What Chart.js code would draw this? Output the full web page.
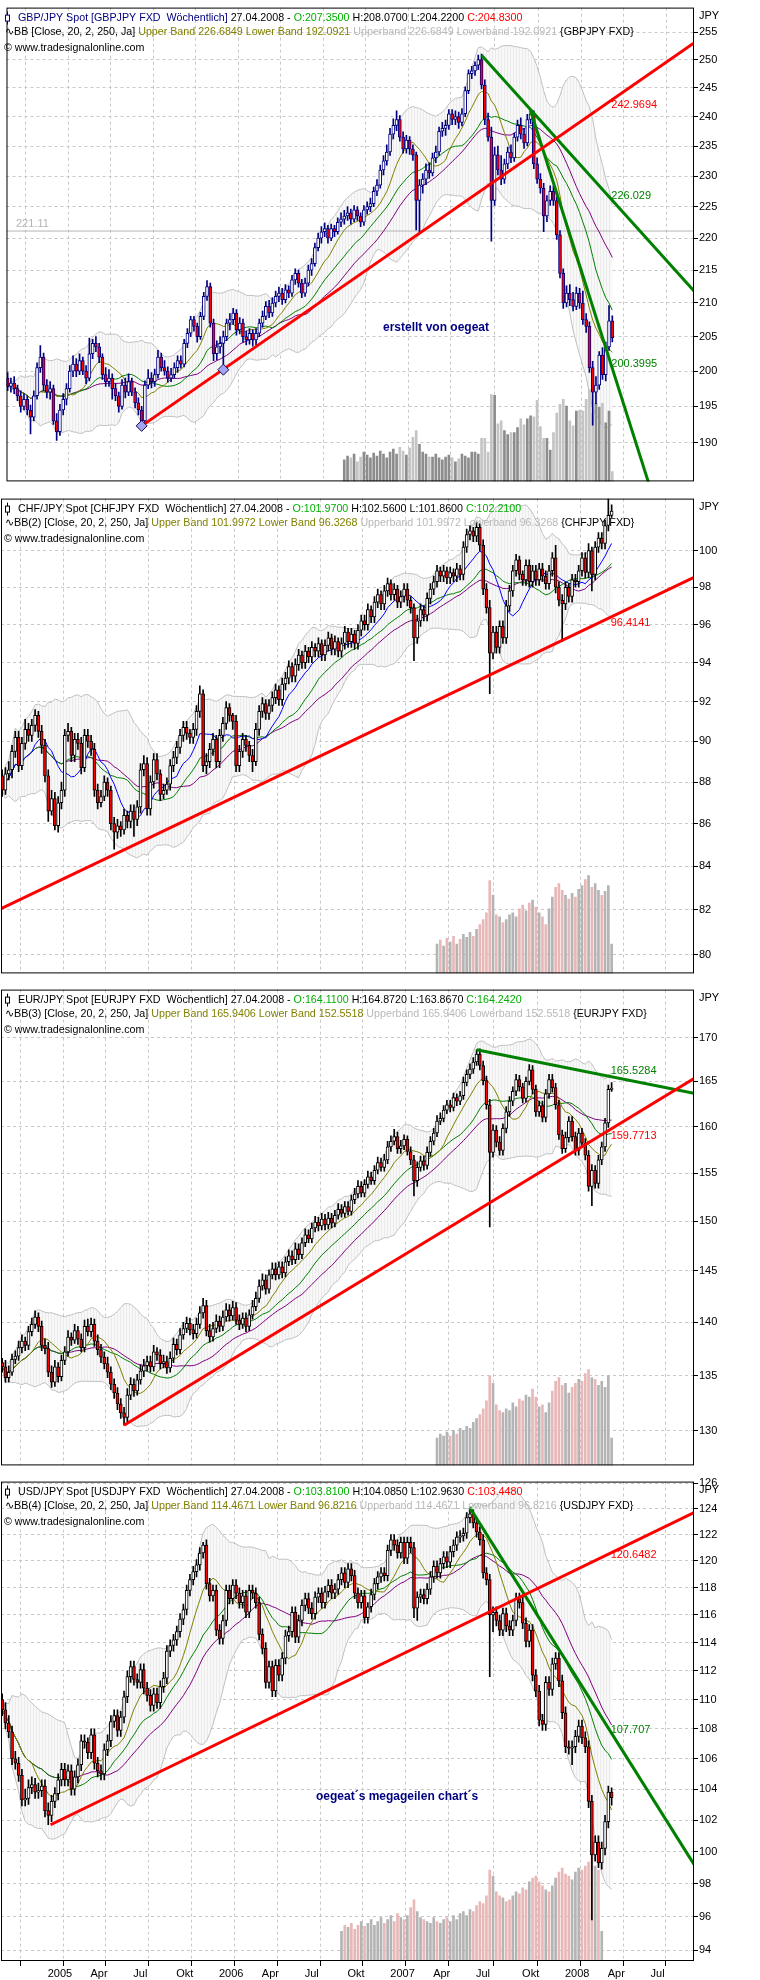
<!DOCTYPE html>
<html>
<head>
<meta charset="utf-8">
<script src="https://cdn.jsdelivr.net/npm/chart.js@4.4.1/dist/chart.umd.min.js"></script>
<style>
  html, body { margin: 0; padding: 0; background: #fff; }
  body { width: 760px; height: 1980px; position: relative; overflow: hidden; }
  canvas { position: absolute; left: 0; }
</style>
</head>
<body>
<canvas id="gbp"></canvas>
<canvas id="chf"></canvas>
<canvas id="eur"></canvas>
<canvas id="usd"></canvas>
<script>
// week 0 = bar of 02.01.2005, one bar per week, last bar = 27.04.2008 (week 173)
const firstWeek = -12;
const lastWeek = 173;

const xTickWeeks = [0, 13, 26, 39, 52, 65, 78, 91, 104, 117, 130, 144, 157, 170, 183];
const xTickLabels = ["2005", "Apr", "Jul", "Okt", "2006", "Apr", "Jul", "Okt", "2007", "Apr", "Jul", "Okt", "2008", "Apr", "Jul"];

// ---------- GBP/JPY ----------
const gbpOpen = [
  199.0, 197.8, 198.3, 197.5, 196.5, 195.0, 196.0, 194.5, 193.5, 196.5,
  200.5, 202.0, 198.0, 197.0, 197.5, 193.0, 191.5, 194.5, 196.0, 197.5,
  200.0, 201.0, 200.0, 201.5, 200.0, 199.0, 202.5, 204.0, 203.5, 202.0,
  199.5, 198.5, 199.0, 197.5, 196.5, 195.0, 198.0, 197.0, 198.5, 197.0,
  195.5, 194.5, 193.0, 198.0, 199.0, 198.5, 199.5, 202.0, 200.5, 200.0,
  199.0, 199.5, 200.5, 201.5, 201.0, 204.0, 205.5, 207.5, 206.5, 205.0,
  208.0, 211.0, 212.5, 207.0, 202.5, 203.5, 204.0, 205.0, 207.0, 207.5,
  208.5, 206.0, 207.0, 205.0, 204.5, 205.5, 204.5, 205.5, 207.0, 208.0,
  209.5, 208.5, 210.0, 211.0, 211.5, 210.5, 212.0, 211.5, 213.5, 214.5,
  213.0, 211.5, 213.0, 215.0, 216.0, 218.5, 220.0, 221.0, 221.5, 220.0,
  221.5, 221.0, 222.5, 223.0, 223.5, 224.0, 223.0, 224.5, 223.5, 222.5,
  224.5, 225.0, 225.5, 227.5, 228.5, 231.0, 232.5, 234.0, 237.0, 238.5,
  239.5, 236.5, 234.5, 236.0, 234.5, 233.5, 226.0, 228.5, 229.5, 231.0,
  230.5, 233.0, 234.0, 237.5, 238.0, 238.5, 240.5, 239.5, 240.0, 239.0,
  240.5, 244.5, 247.5, 248.0, 249.0, 250.0, 245.5, 239.5, 236.5, 226.0,
  233.5, 231.0, 229.5, 232.0, 234.0, 233.0, 236.5, 238.5, 237.0, 235.5,
  239.5, 240.5, 232.0, 229.5, 228.0, 223.5, 226.0, 227.5, 226.0, 220.5,
  214.5, 210.0, 211.5, 210.5, 209.5, 211.5, 210.0, 207.5, 206.5, 200.5,
  197.0, 198.0, 202.3, 199.5, 203.5, 207.35
];
const gbpHigh = [
  199.8, 199.0, 199.2, 198.0, 197.2, 196.8, 196.5, 195.2, 197.2, 201.2,
  203.7, 202.6, 198.8, 198.5, 198.0, 194.0, 195.3, 196.8, 198.2, 200.8,
  202.2, 201.8, 202.5, 202.0, 200.8, 204.8, 204.6, 205.0, 204.0, 202.5,
  200.5, 200.2, 199.6, 198.2, 197.0, 198.8, 199.0, 199.6, 199.0, 197.6,
  196.2, 195.0, 198.6, 200.2, 199.8, 200.3, 203.0, 202.6, 201.5, 200.6,
  200.4, 201.2, 202.2, 202.2, 204.6, 206.2, 208.0, 208.0, 207.0, 208.6,
  211.6, 213.4, 213.0, 207.6, 204.4, 205.0, 205.8, 207.6, 208.4, 209.2,
  209.0, 207.8, 207.6, 205.8, 206.2, 206.0, 206.2, 207.6, 208.8, 210.2,
  210.4, 210.8, 211.8, 212.4, 212.2, 212.8, 212.6, 214.2, 215.2, 215.0,
  213.6, 213.8, 215.8, 216.8, 219.2, 220.8, 221.8, 222.4, 222.0, 222.2,
  222.0, 223.2, 224.0, 224.4, 225.0, 224.6, 225.2, 225.0, 224.0, 225.2,
  225.8, 226.4, 228.2, 229.4, 231.8, 233.4, 235.2, 238.0, 239.6, 241.0,
  240.2, 237.4, 236.8, 236.6, 235.2, 234.0, 229.4, 230.4, 232.0, 232.2,
  233.8, 235.0, 238.2, 239.0, 239.4, 241.2, 241.2, 241.0, 240.8, 241.4,
  245.2, 248.2, 248.8, 249.6, 250.8, 251.0, 246.4, 240.6, 238.2, 234.8,
  235.0, 233.4, 232.8, 234.8, 235.2, 237.2, 239.4, 239.8, 238.0, 240.4,
  241.2, 241.0, 233.0, 230.4, 228.8, 226.8, 228.4, 228.4, 226.6, 221.2,
  215.2, 212.6, 212.8, 211.6, 212.4, 212.2, 211.8, 208.4, 207.2, 201.4,
  199.2, 202.8, 203.4, 204.2, 209.6, 208.07
];
const gbpLow = [
  197.2, 197.0, 196.8, 195.8, 194.2, 194.5, 193.8, 191.2, 193.0, 196.0,
  199.8, 197.2, 196.2, 196.0, 192.5, 190.3, 191.0, 193.8, 195.2, 197.0,
  199.2, 199.2, 199.5, 199.5, 198.2, 198.6, 201.8, 202.8, 201.2, 198.8,
  197.8, 197.8, 196.0, 195.8, 194.2, 194.6, 196.2, 196.5, 196.5, 194.8,
  193.8, 192.3, 192.8, 197.5, 197.6, 197.8, 199.0, 200.0, 199.4, 198.4,
  198.5, 199.0, 199.8, 200.4, 200.6, 203.4, 205.0, 205.8, 204.2, 204.6,
  207.5, 210.4, 206.4, 201.5, 201.6, 202.6, 200.3, 204.4, 206.0, 206.8,
  205.2, 205.4, 204.2, 203.8, 203.9, 203.6, 203.8, 205.0, 206.4, 207.5,
  207.8, 208.0, 209.4, 210.2, 209.8, 210.0, 210.8, 211.0, 212.8, 212.4,
  210.8, 211.0, 212.6, 214.2, 215.6, 218.0, 219.2, 220.2, 219.2, 219.6,
  220.2, 220.6, 221.8, 222.2, 222.8, 222.2, 222.6, 222.8, 221.8, 222.0,
  223.8, 224.2, 225.0, 226.8, 228.0, 230.2, 231.8, 233.4, 236.2, 237.6,
  235.8, 233.8, 233.8, 233.6, 232.6, 221.3, 221.0, 227.2, 228.6, 229.6,
  230.0, 232.2, 233.4, 236.6, 236.8, 237.8, 238.6, 238.6, 238.0, 238.4,
  240.0, 244.0, 246.6, 247.2, 248.2, 244.8, 238.6, 235.8, 219.5, 225.2,
  230.2, 228.6, 228.8, 231.2, 232.2, 232.4, 235.8, 236.2, 234.6, 235.0,
  238.8, 231.2, 228.8, 227.2, 221.0, 222.6, 225.2, 225.2, 219.8, 213.8,
  209.2, 209.4, 209.6, 208.8, 209.0, 209.2, 206.8, 205.6, 199.8, 192.4,
  195.4, 197.4, 198.8, 198.6, 203.0, 204.22
];
const gbpClose = [
  197.8, 198.3, 197.5, 196.5, 195.0, 196.0, 194.5, 193.5, 196.5, 200.5,
  202.0, 198.0, 197.0, 197.5, 193.0, 191.5, 194.5, 196.0, 197.5, 200.0,
  201.0, 200.0, 201.5, 200.0, 199.0, 202.5, 204.0, 203.5, 202.0, 199.5,
  198.5, 199.0, 197.5, 196.5, 195.0, 198.0, 197.0, 198.5, 197.0, 195.5,
  194.5, 193.0, 198.0, 199.0, 198.5, 199.5, 202.0, 200.5, 200.0, 199.0,
  199.5, 200.5, 201.5, 201.0, 204.0, 205.5, 207.5, 206.5, 205.0, 208.0,
  211.0, 212.5, 207.0, 202.5, 203.5, 204.0, 205.0, 207.0, 207.5, 208.5,
  206.0, 207.0, 205.0, 204.5, 205.5, 204.5, 205.5, 207.0, 208.0, 209.5,
  208.5, 210.0, 211.0, 211.5, 210.5, 212.0, 211.5, 213.5, 214.5, 213.0,
  211.5, 213.0, 215.0, 216.0, 218.5, 220.0, 221.0, 221.5, 220.0, 221.5,
  221.0, 222.5, 223.0, 223.5, 224.0, 223.0, 224.5, 223.5, 222.5, 224.5,
  225.0, 225.5, 227.5, 228.5, 231.0, 232.5, 234.0, 237.0, 238.5, 239.5,
  236.5, 234.5, 236.0, 234.5, 233.5, 226.0, 228.5, 229.5, 231.0, 230.5,
  233.0, 234.0, 237.5, 238.0, 238.5, 240.5, 239.5, 240.0, 239.0, 240.5,
  244.5, 247.5, 248.0, 249.0, 250.0, 245.5, 239.5, 236.5, 226.0, 233.5,
  231.0, 229.5, 232.0, 234.0, 233.0, 236.5, 238.5, 237.0, 235.5, 239.5,
  240.5, 232.0, 229.5, 228.0, 223.5, 226.0, 227.5, 226.0, 220.5, 214.5,
  210.0, 211.5, 210.5, 209.5, 211.5, 210.0, 207.5, 206.5, 200.5, 197.0,
  198.0, 202.3, 199.5, 203.5, 207.35, 204.83
];
const gbpVolumeStart = 91;
const gbpVolume = [
  22, 26, 24, 28, 20, 25, 30, 27, 24, 29,
  26, 31, 28, 24, 30, 33, 28, 35, 31, 27,
  34, 45, 52, 38, 30, 28, 25, 25, 28, 24,
  22, 25, 27, 24, 20, 23, 28, 26, 24, 30,
  30, 28, 44, 44, 30, 89, 88, 59, 62, 52,
  48, 50, 50, 55, 64, 58, 64, 67, 66, 83,
  56, 44, 44, 32, 50, 70, 79, 84, 77, 62,
  57, 72, 73, 72, 84, 94, 70, 80, 76, 80,
  60, 72, 10
];
const gbpTicks = [190, 195, 200, 205, 210, 215, 220, 225, 230, 235, 240, 245, 250, 255];
const gbpRedLine = [[29, 192.3], [198, 253.0]];
const gbpGreenLine = [[133, 250.8], [198, 211.8]];
const gbpSteepLine = [[148, 241.0], [185, 183.4]];
const gbpMarkers = [[29, 192.3], [54, 200.2]];
const gbpLevel = 221.11;

// ---------- CHF/JPY ----------
const chfOpen = [
  88.3, 87.6, 88.4, 88.6, 89.5, 90.2, 88.8, 89.9, 90.6, 90.3,
  90.8, 91.3, 90.5, 89.8, 88.3, 86.6, 87.2, 85.9, 87.0, 87.6,
  90.3, 90.5, 89.3, 90.1, 89.9, 88.7, 90.3, 90.0, 89.6, 87.6,
  87.0, 87.3, 88.0, 87.6, 86.0, 85.6, 85.9, 85.7, 86.4, 86.1,
  86.6, 86.2, 86.8, 88.6, 88.9, 86.7, 88.0, 89.1, 88.4, 87.4,
  87.6, 87.9, 88.8, 89.2, 89.7, 90.3, 90.7, 90.4, 90.2, 90.6,
  91.5, 92.4, 88.8, 89.0, 89.6, 90.1, 89.0, 90.3, 90.9, 91.7,
  91.3, 91.0, 88.8, 89.5, 90.1, 89.8, 89.3, 89.0, 90.6, 91.5,
  91.9, 91.4, 91.8, 92.2, 92.6, 92.1, 92.9, 93.2, 93.8, 93.3,
  93.9, 94.4, 94.0, 94.6, 94.3, 94.8, 94.6, 95.0, 94.4, 94.9,
  95.3, 94.7, 95.1, 94.6, 95.0, 95.6, 95.1, 95.5, 95.0, 95.7,
  96.2, 96.0, 96.8, 96.4, 97.2, 97.6, 97.1, 97.8, 98.2, 97.6,
  97.9, 97.2, 97.5, 97.9, 97.3, 96.9, 95.3, 96.2, 96.8, 96.5,
  97.4, 97.9, 98.3, 98.9, 98.6, 98.9, 98.5, 98.8, 98.6, 99.0,
  98.7, 100.2, 100.9, 101.1, 100.8, 101.3, 100.3, 97.9, 96.9, 94.5,
  95.6, 94.8, 95.9, 95.3, 97.0, 97.8, 98.9, 99.5, 98.7, 98.4,
  99.2, 98.3, 98.9, 98.4, 99.0, 98.6, 98.2, 98.9, 99.6, 98.0,
  97.3, 97.1, 98.0, 97.5, 98.4, 98.3, 98.9, 99.6, 98.8, 100.0,
  98.7, 100.2, 100.7, 100.4, 101.4, 101.97
];
const chfHigh = [
  88.6, 88.7, 89.0, 89.8, 90.5, 90.5, 90.2, 91.1, 90.9, 91.1,
  91.6, 91.5, 90.8, 90.1, 88.6, 87.6, 87.5, 87.3, 88.0, 90.6,
  90.9, 90.7, 90.4, 90.4, 90.2, 90.6, 90.6, 90.3, 89.9, 87.9,
  87.6, 88.3, 88.2, 87.8, 86.3, 86.2, 86.1, 86.7, 86.6, 86.9,
  86.9, 87.1, 88.9, 89.3, 89.2, 88.3, 89.4, 89.4, 88.6, 87.9,
  88.2, 89.1, 89.5, 90.0, 90.6, 91.0, 91.0, 90.6, 90.9, 91.8,
  92.8, 92.6, 89.4, 89.9, 90.4, 90.3, 90.6, 91.2, 92.0, 91.9,
  91.4, 91.3, 89.8, 90.4, 90.3, 90.0, 89.6, 90.9, 91.8, 92.2,
  92.1, 92.1, 92.5, 92.9, 92.8, 93.2, 93.5, 94.1, 94.0, 94.2,
  94.7, 94.6, 94.9, 94.8, 95.1, 95.0, 95.3, 95.2, 95.2, 95.6,
  95.5, 95.4, 95.3, 95.3, 95.9, 95.8, 95.8, 95.7, 96.0, 96.5,
  96.5, 97.1, 97.0, 97.5, 97.9, 97.8, 98.1, 98.5, 98.4, 98.2,
  98.1, 97.8, 98.2, 98.2, 97.5, 97.1, 96.5, 97.1, 97.0, 97.7,
  98.2, 98.6, 99.2, 99.1, 99.2, 99.1, 99.1, 99.0, 99.3, 99.2,
  100.5, 101.2, 101.4, 101.3, 101.6, 101.5, 100.6, 98.2, 97.3, 95.9,
  95.9, 96.2, 96.2, 97.3, 98.1, 99.2, 99.8, 99.7, 98.9, 99.5,
  99.5, 99.2, 99.2, 99.3, 99.3, 98.9, 99.2, 99.9, 100.3, 98.3,
  97.6, 98.3, 98.2, 98.7, 98.7, 99.2, 99.9, 99.9, 100.4, 100.2,
  100.5, 101.0, 101.0, 101.7, 102.9, 102.56
];
const chfLow = [
  87.3, 87.4, 88.1, 88.2, 89.2, 88.5, 88.6, 89.6, 90.0, 90.0,
  90.5, 90.2, 89.4, 88.0, 86.1, 86.4, 85.7, 85.6, 86.7, 87.3,
  90.0, 89.0, 89.0, 89.6, 88.4, 88.5, 89.7, 89.3, 87.3, 86.7,
  86.8, 87.1, 87.3, 85.7, 84.8, 85.3, 85.4, 85.5, 85.8, 85.8,
  85.4, 85.9, 86.5, 88.3, 86.4, 86.4, 87.7, 88.1, 87.1, 87.2,
  87.4, 87.6, 88.5, 88.9, 89.4, 90.0, 90.1, 89.9, 89.9, 90.3,
  91.2, 88.5, 88.4, 88.7, 89.3, 88.7, 88.7, 90.0, 90.6, 91.0,
  90.6, 88.5, 88.5, 89.2, 89.5, 89.0, 88.5, 88.8, 90.3, 91.2,
  91.1, 91.1, 91.5, 91.9, 91.8, 91.8, 92.6, 92.9, 93.0, 93.0,
  93.6, 93.7, 93.7, 94.0, 94.0, 94.3, 94.3, 94.1, 94.1, 94.6,
  94.4, 94.4, 94.3, 94.3, 94.7, 94.8, 94.8, 94.7, 94.7, 95.4,
  95.7, 95.7, 96.1, 96.1, 96.9, 96.8, 96.8, 97.5, 97.3, 97.3,
  96.9, 96.9, 97.2, 97.0, 96.6, 94.1, 95.0, 95.9, 96.2, 96.2,
  97.1, 97.6, 98.0, 98.3, 98.3, 98.2, 98.2, 98.3, 98.3, 98.4,
  98.4, 99.9, 100.6, 100.5, 100.5, 100.0, 97.6, 96.6, 92.4, 94.2,
  94.5, 94.5, 95.0, 95.0, 96.7, 97.5, 98.6, 98.4, 98.1, 98.1,
  98.0, 98.0, 98.1, 98.1, 98.3, 97.9, 97.9, 98.6, 97.7, 97.0,
  95.1, 96.8, 97.2, 97.2, 98.0, 98.0, 98.6, 98.5, 98.5, 97.8,
  98.4, 99.9, 100.1, 100.1, 101.1, 101.86
];
const chfClose = [
  87.6, 88.4, 88.6, 89.5, 90.2, 88.8, 89.9, 90.6, 90.3, 90.8,
  91.3, 90.5, 89.8, 88.3, 86.6, 87.2, 85.9, 87.0, 87.6, 90.3,
  90.5, 89.3, 90.1, 89.9, 88.7, 90.3, 90.0, 89.6, 87.6, 87.0,
  87.3, 88.0, 87.6, 86.0, 85.6, 85.9, 85.7, 86.4, 86.1, 86.6,
  86.2, 86.8, 88.6, 88.9, 86.7, 88.0, 89.1, 88.4, 87.4, 87.6,
  87.9, 88.8, 89.2, 89.7, 90.3, 90.7, 90.4, 90.2, 90.6, 91.5,
  92.4, 88.8, 89.0, 89.6, 90.1, 89.0, 90.3, 90.9, 91.7, 91.3,
  91.0, 88.8, 89.5, 90.1, 89.8, 89.3, 89.0, 90.6, 91.5, 91.9,
  91.4, 91.8, 92.2, 92.6, 92.1, 92.9, 93.2, 93.8, 93.3, 93.9,
  94.4, 94.0, 94.6, 94.3, 94.8, 94.6, 95.0, 94.4, 94.9, 95.3,
  94.7, 95.1, 94.6, 95.0, 95.6, 95.1, 95.5, 95.0, 95.7, 96.2,
  96.0, 96.8, 96.4, 97.2, 97.6, 97.1, 97.8, 98.2, 97.6, 97.9,
  97.2, 97.5, 97.9, 97.3, 96.9, 95.3, 96.2, 96.8, 96.5, 97.4,
  97.9, 98.3, 98.9, 98.6, 98.9, 98.5, 98.8, 98.6, 99.0, 98.7,
  100.2, 100.9, 101.1, 100.8, 101.3, 100.3, 97.9, 96.9, 94.5, 95.6,
  94.8, 95.9, 95.3, 97.0, 97.8, 98.9, 99.5, 98.7, 98.4, 99.2,
  98.3, 98.9, 98.4, 99.0, 98.6, 98.2, 98.9, 99.6, 98.0, 97.3,
  97.1, 98.0, 97.5, 98.4, 98.3, 98.9, 99.6, 98.8, 100.0, 98.7,
  100.2, 100.7, 100.4, 101.4, 101.97, 102.21
];
const chfVolumeStart = 120;
const chfVolume = [
  30, 34, 28, 36, 32, 38, 30, 35, 40, 37,
  42, 38, 45, 50, 55, 62, 95, 80, 60, 58,
  52, 55, 60, 62, 58, 66, 70, 64, 72, 75,
  68, 62, 58, 50, 66, 78, 88, 92, 85, 80,
  76, 82, 78, 86, 90, 96, 100, 88, 92, 85,
  80, 84, 90, 30
];
const chfTicks = [80, 82, 84, 86, 88, 90, 92, 94, 96, 98, 100];
const chfRedLine = [[-12.35, 82.05], [198, 98.54]];

// ---------- EUR/JPY ----------
const eurOpen = [
  136.2, 135.8, 134.8, 135.3, 136.5, 136.8, 137.6, 138.2, 137.8, 139.1,
  139.8, 140.5, 139.6, 137.8, 137.5, 135.3, 134.4, 135.8, 134.9, 136.4,
  137.2, 138.6, 138.3, 139.2, 138.4, 137.6, 139.6, 139.1, 139.8, 138.2,
  137.4, 136.7, 136.1, 135.3, 134.2, 133.4, 132.4, 131.6, 131.2, 133.2,
  134.2, 133.6, 134.6, 135.4, 135.9, 136.3, 135.8, 137.2, 136.9, 136.1,
  136.3, 135.7, 136.6, 137.9, 137.4, 138.8, 139.4, 139.9, 139.3, 138.9,
  139.8, 140.9, 141.6, 139.2, 138.6, 139.4, 140.1, 139.6, 140.5, 141.2,
  140.6, 141.4, 140.2, 139.8, 140.4, 139.6, 140.7, 141.5, 142.3, 143.5,
  144.1, 143.2, 144.6, 145.2, 144.6, 145.4, 144.8, 145.9, 146.5, 146.1,
  147.2, 146.6, 147.8, 148.6, 148.2, 149.3, 149.9, 149.5, 150.2, 149.6,
  150.3, 149.8, 150.6, 151.2, 150.8, 151.5, 151.0, 152.2, 152.8, 153.6,
  152.9, 153.8, 154.6, 154.2, 155.3, 156.1, 155.6, 156.4, 157.8, 158.4,
  158.9, 157.6, 157.9, 158.6, 157.3, 156.4, 154.2, 155.6, 156.3, 155.8,
  157.2, 158.4, 159.3, 160.6, 160.9, 161.8, 162.4, 162.1, 163.2, 162.8,
  163.4, 164.9, 165.8, 166.4, 167.2, 168.1, 166.8, 165.1, 162.4, 157.2,
  159.6, 158.3, 157.4, 159.8, 161.6, 162.8, 163.9, 165.2, 164.4, 163.1,
  165.0, 166.3, 164.1, 161.6, 162.3, 161.0, 163.6, 165.2, 164.3, 162.4,
  159.1, 157.6, 158.8, 160.6, 158.9, 157.4, 159.3, 158.2, 156.9, 153.6,
  155.3, 153.9, 156.4, 157.8, 160.4, 164.11
];
const eurHigh = [
  136.6, 136.4, 135.9, 137.0, 137.3, 138.2, 138.8, 138.6, 139.6, 140.4,
  141.1, 140.9, 140.1, 138.4, 138.1, 135.9, 136.4, 136.2, 136.9, 137.7,
  139.2, 139.0, 139.8, 139.6, 138.9, 140.2, 140.3, 140.4, 140.3, 138.8,
  137.9, 137.2, 136.7, 135.8, 134.7, 133.9, 132.9, 132.1, 133.8, 134.8,
  134.7, 135.1, 136.0, 136.5, 136.8, 136.8, 137.8, 137.6, 137.4, 136.9,
  136.8, 137.2, 138.5, 138.4, 139.4, 140.0, 140.5, 140.4, 139.8, 140.4,
  141.5, 142.3, 142.1, 139.8, 140.0, 140.7, 140.6, 141.1, 141.8, 141.7,
  142.0, 141.9, 140.7, 140.9, 140.9, 141.2, 142.1, 142.9, 144.1, 144.7,
  144.6, 145.1, 145.8, 145.8, 145.9, 145.9, 146.4, 147.1, 147.0, 147.8,
  147.7, 148.3, 149.2, 149.1, 149.8, 150.5, 150.4, 150.8, 150.7, 150.9,
  150.8, 151.1, 151.8, 151.7, 152.0, 152.0, 152.7, 153.4, 154.2, 154.1,
  154.3, 155.2, 155.1, 155.8, 156.7, 156.6, 157.0, 158.4, 159.0, 159.7,
  159.4, 158.5, 159.1, 159.0, 157.8, 156.9, 156.2, 156.8, 156.8, 157.8,
  158.9, 159.8, 161.2, 161.5, 162.3, 162.9, 162.9, 163.7, 163.6, 163.9,
  165.5, 166.3, 167.0, 167.7, 168.6, 168.7, 167.3, 165.6, 163.0, 160.2,
  160.1, 158.9, 160.3, 162.2, 163.3, 164.4, 165.8, 165.7, 164.8, 165.5,
  166.9, 166.8, 164.6, 162.8, 162.8, 164.1, 165.8, 165.8, 164.8, 162.9,
  159.6, 159.4, 161.1, 161.1, 159.4, 159.8, 159.8, 158.7, 157.4, 155.9,
  155.8, 156.9, 158.3, 160.9, 164.6, 164.872
];
const eurLow = [
  135.3, 134.4, 134.4, 135.0, 136.1, 136.4, 137.1, 137.3, 137.4, 138.7,
  139.4, 139.1, 137.3, 137.0, 134.9, 133.9, 134.0, 134.4, 134.5, 136.0,
  136.8, 137.8, 138.0, 137.9, 137.2, 137.2, 138.7, 138.6, 137.7, 136.9,
  136.2, 135.6, 134.8, 133.7, 132.9, 131.9, 131.1, 130.5, 130.8, 132.8,
  133.1, 133.2, 134.2, 134.9, 135.4, 135.3, 135.4, 136.4, 135.6, 135.7,
  135.2, 135.3, 136.2, 136.9, 137.0, 138.4, 139.0, 138.8, 138.4, 138.5,
  139.4, 140.4, 138.7, 138.1, 138.2, 139.0, 139.1, 139.2, 140.1, 140.1,
  140.2, 139.8, 139.3, 139.4, 139.1, 139.2, 140.3, 141.1, 141.9, 143.1,
  142.7, 142.8, 144.2, 144.1, 144.2, 144.3, 144.4, 145.5, 145.6, 145.7,
  146.1, 146.2, 147.4, 147.8, 147.8, 148.9, 149.0, 149.1, 149.1, 149.2,
  149.3, 149.4, 150.2, 150.4, 150.4, 150.6, 150.6, 151.8, 152.4, 152.5,
  152.5, 153.4, 153.8, 153.8, 154.9, 155.2, 155.2, 156.0, 157.3, 158.0,
  157.1, 157.1, 157.5, 156.9, 155.9, 152.6, 153.6, 155.2, 155.3, 155.4,
  156.8, 158.0, 158.9, 160.2, 160.5, 161.4, 161.6, 161.7, 162.3, 162.4,
  163.0, 164.5, 165.3, 165.9, 166.8, 166.3, 164.6, 161.9, 149.4, 156.7,
  157.8, 156.9, 156.9, 159.3, 161.1, 162.3, 163.4, 163.9, 162.6, 162.7,
  164.6, 163.6, 161.1, 161.1, 160.5, 160.5, 163.1, 163.8, 161.9, 158.6,
  157.1, 157.2, 158.3, 158.4, 156.9, 156.9, 157.7, 156.4, 153.1, 151.6,
  153.4, 153.4, 155.9, 157.3, 159.9, 163.867
];
const eurClose = [
  135.8, 134.8, 135.3, 136.5, 136.8, 137.6, 138.2, 137.8, 139.1, 139.8,
  140.5, 139.6, 137.8, 137.5, 135.3, 134.4, 135.8, 134.9, 136.4, 137.2,
  138.6, 138.3, 139.2, 138.4, 137.6, 139.6, 139.1, 139.8, 138.2, 137.4,
  136.7, 136.1, 135.3, 134.2, 133.4, 132.4, 131.6, 131.2, 133.2, 134.2,
  133.6, 134.6, 135.4, 135.9, 136.3, 135.8, 137.2, 136.9, 136.1, 136.3,
  135.7, 136.6, 137.9, 137.4, 138.8, 139.4, 139.9, 139.3, 138.9, 139.8,
  140.9, 141.6, 139.2, 138.6, 139.4, 140.1, 139.6, 140.5, 141.2, 140.6,
  141.4, 140.2, 139.8, 140.4, 139.6, 140.7, 141.5, 142.3, 143.5, 144.1,
  143.2, 144.6, 145.2, 144.6, 145.4, 144.8, 145.9, 146.5, 146.1, 147.2,
  146.6, 147.8, 148.6, 148.2, 149.3, 149.9, 149.5, 150.2, 149.6, 150.3,
  149.8, 150.6, 151.2, 150.8, 151.5, 151.0, 152.2, 152.8, 153.6, 152.9,
  153.8, 154.6, 154.2, 155.3, 156.1, 155.6, 156.4, 157.8, 158.4, 158.9,
  157.6, 157.9, 158.6, 157.3, 156.4, 154.2, 155.6, 156.3, 155.8, 157.2,
  158.4, 159.3, 160.6, 160.9, 161.8, 162.4, 162.1, 163.2, 162.8, 163.4,
  164.9, 165.8, 166.4, 167.2, 168.1, 166.8, 165.1, 162.4, 157.2, 159.6,
  158.3, 157.4, 159.8, 161.6, 162.8, 163.9, 165.2, 164.4, 163.1, 165.0,
  166.3, 164.1, 161.6, 162.3, 161.0, 163.6, 165.2, 164.3, 162.4, 159.1,
  157.6, 158.8, 160.6, 158.9, 157.4, 159.3, 158.2, 156.9, 153.6, 155.3,
  153.9, 156.4, 157.8, 160.4, 164.11, 164.242
];
const eurVolumeStart = 120;
const eurVolume = [
  28, 32, 30, 34, 30, 36, 32, 38, 36, 40,
  38, 44, 48, 52, 58, 66, 92, 84, 62, 56,
  54, 58, 56, 64, 60, 68, 66, 72, 70, 78,
  70, 60, 62, 54, 64, 76, 86, 90, 82, 84,
  74, 80, 84, 88, 86, 94, 98, 90, 88, 82,
  86, 80, 92, 28
];
const eurTicks = [130, 135, 140, 145, 150, 155, 160, 165, 170];
const eurRedLine = [[25, 130.5], [198, 165.33]];
const eurGreenLine = [[132, 168.6], [198, 163.68]];

// ---------- USD/JPY ----------
const usdOpen = [
  110.0, 109.3, 108.4, 107.8, 106.0, 105.7, 104.9, 103.3, 103.4, 104.1,
  104.3, 103.8, 103.9, 104.2, 102.6, 102.3, 103.2, 103.7, 104.6, 105.3,
  104.6, 105.2, 104.0, 104.8, 105.6, 107.2, 107.1, 106.4, 107.6, 105.7,
  105.2, 105.0, 106.6, 107.2, 108.5, 108.9, 107.9, 108.8, 110.2, 111.6,
  112.3, 111.4, 111.2, 112.1, 110.8, 110.3, 109.6, 110.4, 109.8, 110.9,
  111.5, 113.4, 113.8, 114.2, 114.8, 115.7, 116.4, 117.8, 118.6, 119.2,
  119.7, 120.6, 121.2, 118.3, 117.4, 117.8, 114.9, 114.3, 115.6, 117.8,
  117.2, 118.2, 117.6, 116.9, 117.4, 116.2, 117.8, 117.6, 116.9, 114.6,
  113.6, 111.2, 112.3, 110.6, 112.4, 111.7, 112.9, 114.5, 114.8, 116.2,
  114.4, 115.6, 116.7, 117.2, 116.5, 116.1, 117.3, 117.6, 116.9, 117.7,
  118.2, 117.6, 117.9, 118.6, 119.1, 118.4, 119.4, 118.9, 117.6, 116.9,
  117.4, 115.8, 116.6, 117.5, 118.3, 118.8, 119.1, 118.9, 120.8, 121.6,
  121.2, 120.6, 121.4, 120.2, 121.4, 121.0, 116.5, 117.3, 117.5, 117.2,
  117.9, 118.8, 119.6, 119.1, 119.8, 120.3, 119.9, 120.7, 121.2, 121.8,
  121.9, 122.1, 123.3, 123.6, 122.9, 122.2, 121.6, 119.1, 118.6, 116.0,
  116.2, 115.6, 114.9, 116.1, 115.2, 114.9, 115.6, 117.2, 116.9, 115.4,
  114.1, 114.9, 111.7, 110.6, 108.6, 108.3, 111.2, 110.7, 112.5, 112.9,
  111.3, 109.1, 106.8, 106.7, 106.8, 107.5, 108.2, 107.4, 106.8, 103.2,
  99.8, 100.6, 99.3, 100.2, 101.9, 103.81
];
const usdHigh = [
  110.4, 109.8, 108.9, 108.2, 106.5, 106.1, 105.3, 104.0, 104.6, 104.8,
  104.7, 104.4, 104.6, 104.6, 103.1, 103.6, 104.1, 105.0, 105.7, 105.7,
  105.6, 105.6, 105.2, 106.0, 107.6, 107.6, 107.4, 108.0, 108.0, 106.1,
  105.6, 107.0, 107.6, 108.9, 109.3, 109.3, 109.2, 110.6, 112.0, 112.7,
  112.7, 111.8, 112.5, 112.5, 111.2, 110.7, 110.8, 110.8, 111.3, 111.9,
  113.8, 114.2, 114.6, 115.2, 116.1, 116.8, 118.2, 119.0, 119.6, 120.1,
  121.0, 121.4, 121.6, 118.7, 118.2, 118.2, 115.3, 116.0, 118.2, 118.2,
  118.6, 118.6, 118.0, 117.8, 117.8, 118.2, 118.2, 118.0, 117.3, 115.0,
  114.0, 112.7, 112.7, 112.8, 112.8, 113.3, 114.9, 115.2, 116.6, 116.6,
  116.0, 117.1, 117.6, 117.6, 116.9, 117.7, 118.0, 118.0, 118.1, 118.6,
  118.6, 118.3, 119.0, 119.5, 119.5, 119.8, 119.8, 119.3, 118.0, 117.8,
  117.8, 116.9, 117.9, 118.7, 119.2, 119.5, 119.5, 121.2, 122.0, 122.0,
  121.6, 121.8, 121.8, 121.8, 121.8, 121.4, 117.7, 117.9, 117.9, 118.3,
  119.2, 120.0, 120.0, 120.2, 120.7, 120.7, 121.1, 121.6, 122.2, 122.3,
  122.5, 123.7, 124.1, 123.9, 123.3, 122.6, 122.0, 119.5, 119.0, 116.6,
  116.6, 116.0, 116.5, 116.5, 115.6, 116.0, 117.6, 117.6, 117.3, 115.8,
  115.3, 115.3, 112.1, 111.0, 109.0, 111.6, 111.6, 112.9, 113.3, 113.3,
  111.7, 109.5, 107.2, 107.2, 107.9, 108.6, 108.6, 107.8, 107.2, 103.6,
  101.0, 101.0, 100.6, 102.3, 104.2, 104.085
];
const usdLow = [
  108.9, 108.0, 107.4, 105.6, 105.3, 104.5, 102.9, 102.9, 103.0, 103.7,
  103.4, 103.4, 103.5, 102.2, 101.7, 101.9, 102.8, 103.3, 104.2, 104.2,
  104.2, 103.6, 103.6, 104.4, 105.2, 106.7, 106.0, 106.0, 105.3, 104.8,
  104.6, 104.6, 106.2, 106.8, 108.1, 107.5, 107.5, 108.4, 109.8, 111.2,
  111.0, 110.8, 110.8, 110.4, 109.9, 109.2, 109.2, 109.4, 109.4, 110.5,
  111.1, 113.0, 113.4, 113.8, 114.4, 115.3, 116.0, 117.4, 118.2, 118.8,
  119.3, 120.2, 117.9, 117.0, 117.0, 114.5, 113.9, 113.9, 115.2, 116.8,
  116.8, 117.2, 116.5, 116.5, 115.8, 115.8, 117.2, 116.5, 114.2, 113.2,
  110.8, 110.8, 110.2, 110.2, 111.3, 111.3, 112.5, 114.1, 114.4, 114.0,
  114.0, 115.2, 116.3, 116.1, 115.7, 115.7, 116.9, 116.5, 116.5, 117.3,
  117.2, 117.2, 117.5, 118.2, 118.0, 118.0, 118.5, 117.2, 116.5, 116.5,
  115.4, 115.4, 116.2, 117.1, 117.9, 118.4, 118.5, 118.5, 120.4, 120.8,
  120.2, 120.2, 119.8, 119.8, 120.6, 115.8, 115.6, 116.9, 116.8, 116.8,
  117.5, 118.4, 118.7, 118.7, 119.4, 119.5, 119.5, 120.3, 120.8, 121.4,
  121.5, 121.7, 122.9, 122.5, 121.8, 121.2, 118.7, 118.2, 111.6, 114.8,
  115.2, 114.5, 114.5, 114.8, 114.5, 114.5, 115.2, 116.5, 115.0, 113.7,
  113.7, 111.3, 110.2, 108.2, 107.9, 107.9, 110.3, 110.3, 112.1, 110.9,
  108.7, 106.4, 106.3, 105.6, 106.4, 107.1, 107.0, 106.4, 102.8, 95.8,
  99.4, 99.0, 98.9, 99.8, 101.5, 102.963
];
const usdClose = [
  109.3, 108.4, 107.8, 106.0, 105.7, 104.9, 103.3, 103.4, 104.1, 104.3,
  103.8, 103.9, 104.2, 102.6, 102.3, 103.2, 103.7, 104.6, 105.3, 104.6,
  105.2, 104.0, 104.8, 105.6, 107.2, 107.1, 106.4, 107.6, 105.7, 105.2,
  105.0, 106.6, 107.2, 108.5, 108.9, 107.9, 108.8, 110.2, 111.6, 112.3,
  111.4, 111.2, 112.1, 110.8, 110.3, 109.6, 110.4, 109.8, 110.9, 111.5,
  113.4, 113.8, 114.2, 114.8, 115.7, 116.4, 117.8, 118.6, 119.2, 119.7,
  120.6, 121.2, 118.3, 117.4, 117.8, 114.9, 114.3, 115.6, 117.8, 117.2,
  118.2, 117.6, 116.9, 117.4, 116.2, 117.8, 117.6, 116.9, 114.6, 113.6,
  111.2, 112.3, 110.6, 112.4, 111.7, 112.9, 114.5, 114.8, 116.2, 114.4,
  115.6, 116.7, 117.2, 116.5, 116.1, 117.3, 117.6, 116.9, 117.7, 118.2,
  117.6, 117.9, 118.6, 119.1, 118.4, 119.4, 118.9, 117.6, 116.9, 117.4,
  115.8, 116.6, 117.5, 118.3, 118.8, 119.1, 118.9, 120.8, 121.6, 121.2,
  120.6, 121.4, 120.2, 121.4, 121.0, 116.5, 117.3, 117.5, 117.2, 117.9,
  118.8, 119.6, 119.1, 119.8, 120.3, 119.9, 120.7, 121.2, 121.8, 121.9,
  122.1, 123.3, 123.6, 122.9, 122.2, 121.6, 119.1, 118.6, 116.0, 116.2,
  115.6, 114.9, 116.1, 115.2, 114.9, 115.6, 117.2, 116.9, 115.4, 114.1,
  114.9, 111.7, 110.6, 108.6, 108.3, 111.2, 110.7, 112.5, 112.9, 111.3,
  109.1, 106.8, 106.7, 106.8, 107.5, 108.2, 107.4, 106.8, 103.2, 99.8,
  100.6, 99.3, 100.2, 101.9, 103.81, 103.448
];
const usdVolumeStart = 91;
const usdVolume = [
  30, 36, 34, 38, 32, 36, 40, 35, 38, 42,
  36, 40, 44, 38, 42, 46, 40, 48, 44, 42,
  46, 54, 62, 50, 44, 42, 40, 38, 44, 40,
  38, 42, 44, 40, 46, 42, 48, 50, 46, 52,
  50, 56, 60, 58, 66, 92, 86, 70, 66, 64,
  60, 62, 66, 70, 68, 74, 72, 80, 84, 86,
  80, 76, 72, 70, 76, 84, 90, 94, 88, 86,
  82, 90, 94, 92, 96, 100, 110, 96, 92, 30
];
const usdTicks = [94, 96, 98, 100, 102, 104, 106, 108, 110, 112, 114, 116, 118, 120, 122, 124, 126];
const usdRedLine = [[2.7, 101.7], [198, 123.7]];
const usdGreenLine = [[129.9, 124.1], [198, 99.2]];

// ---------- helpers ----------
const FONT = '"Liberation Sans", Arial, sans-serif';

const sma = (values, n) =>
  values.map((_, k) => {
    const win = values.slice(Math.max(0, k - n + 1), k + 1);
    return win.reduce((a, b) => a + b, 0) / win.length;
  });

const bollinger = (values, n, mult) => {
  const mid = sma(values, n);
  const upper = [], lower = [];
  values.forEach((_, k) => {
    const win = values.slice(Math.max(0, k - n + 1), k + 1);
    const sd = Math.sqrt(win.reduce((a, b) => a + (b - mid[k]) ** 2, 0) / win.length);
    upper.push(mid[k] + mult * sd);
    lower.push(mid[k] - mult * sd);
  });
  return { upper, lower };
};

// faint vertical hatching used between the bands
const hatch = (() => {
  const c = document.createElement("canvas");
  c.width = 3;
  c.height = 4;
  const g = c.getContext("2d");
  g.fillStyle = "#f8f8f8";
  g.fillRect(0, 0, 3, 4);
  g.fillStyle = "#ebebeb";
  g.fillRect(0, 0, 1, 4);
  return g.createPattern(c, "repeat");
})();

// writes a row of coloured text pieces, left to right
const drawPieces = (ctx, x, y, pieces) => {
  pieces.forEach(([text, color]) => {
    ctx.fillStyle = color;
    ctx.fillText(text, x, y);
    x += ctx.measureText(text).width;
  });
};

const makePanel = (p) => {
  const canvas = document.getElementById(p.id);
  const canvasTop = p.top - 2;
  const canvasHeight = p.showDates ? 1980 - canvasTop : p.bottom - p.top + 4;
  const xAxisHeight = p.showDates ? canvasHeight - 2 - (p.bottom - p.top) : 0;
  canvas.width = 760;
  canvas.height = canvasHeight;
  canvas.style.top = canvasTop + "px";
  canvas.style.width = "760px";
  canvas.style.height = canvasHeight + "px";

  const xs = p.close.map((_, k) => firstWeek + k);
  const rising = p.close.map((c, k) => c >= p.open[k]);
  const pts = (arr) => arr.map((y, k) => ({ x: xs[k], y }));
  const bb = bollinger(p.close, 20, 2);

  const lineSet = (data, color, width, order, extra) =>
    Object.assign({ type: "line", data, borderColor: color, borderWidth: width, pointRadius: 0, tension: 0, fill: false, order }, extra || {});

  const datasets = [
    lineSet(pts(bb.upper), "#c0c0c0", 1, 20, { fill: "+1", backgroundColor: hatch }),
    lineSet(pts(bb.lower), "#c0c0c0", 1, 19),
    {
      type: "bar",
      yAxisID: "yv",
      data: p.volume.map((v, k) => ({ x: p.volumeStart + k, y: v })),
      backgroundColor: p.volume.map((_, k) => (rising[p.volumeStart - firstWeek + k] ? p.volUp : p.volDown)),
      barThickness: 2,
      grouped: false,
      order: 18,
    },
    lineSet(pts(sma(p.close, 30)), "#800080", 1, 15),
    lineSet(pts(sma(p.close, 20)), "#008000", 1, 14),
    lineSet(pts(sma(p.close, 10)), p.fastColor, 1, 13),
    {
      type: "bar",
      data: xs.map((x, k) => ({ x, y: [p.low[k], p.high[k]] })),
      backgroundColor: p.candleEdge,
      barThickness: 1,
      grouped: false,
      order: 6,
    },
    {
      type: "bar",
      data: xs.map((x, k) => ({ x, y: [p.open[k], p.close[k]] })),
      backgroundColor: rising.map((r) => (r ? "#ffffff" : "#ff0000")),
      borderColor: p.candleEdge,
      borderWidth: 1,
      borderSkipped: false,
      minBarLength: 1,
      barThickness: 3,
      grouped: false,
      order: 5,
    },
  ];
  if (p.level) {
    datasets.push(lineSet([{ x: -13, y: p.level }, { x: 199, y: p.level }], "#b4b4b4", 1, 17));
  }
  p.trends.forEach((t) => {
    datasets.push(lineSet(t.points.map(([x, y]) => ({ x, y })), t.color, 3, 1));
  });
  if (p.markers) {
    datasets.push({
      type: "line",
      data: p.markers.map(([x, y]) => ({ x, y })),
      showLine: false,
      pointStyle: "rectRot",
      pointRadius: 5.5,
      pointBackgroundColor: "#a4a4f4",
      pointBorderColor: "#101050",
      pointBorderWidth: 1,
      order: 0,
    });
  }

  const panelText = {
    id: "panelText",
    afterDraw(chart) {
      const ctx = chart.ctx;
      const ca = chart.chartArea;
      const xScale = chart.scales.x;
      const yScale = chart.scales.y;
      ctx.save();

      // frame
      ctx.strokeStyle = "#000";
      ctx.lineWidth = 1;
      ctx.strokeRect(ca.left + 0.5, ca.top + 0.5, ca.right - ca.left - 1, ca.bottom - ca.top - 1);

      ctx.font = "11px " + FONT;
      ctx.textBaseline = "middle";
      ctx.textAlign = "left";
      ctx.fillStyle = "#000";
      ctx.fillText("JPY", ca.right + 5, ca.top + 8);

      // small candle symbol before the title
      ctx.strokeStyle = p.titleColor;
      ctx.beginPath();
      ctx.moveTo(7.5, ca.top + 4);
      ctx.lineTo(7.5, ca.top + 17);
      ctx.stroke();
      ctx.fillStyle = "#fff";
      ctx.fillRect(5.5, ca.top + 7.5, 4, 6);
      ctx.strokeRect(5.5, ca.top + 7.5, 4, 6);

      ctx.font = "10.7px " + FONT;
      drawPieces(ctx, 18, ca.top + 10, p.header1);
      drawPieces(ctx, 5, ca.top + 24, p.header2);
      ctx.fillStyle = "#000";
      ctx.fillText("\u00a9 www.tradesignalonline.com", 4, ca.top + 40);

      // values of the trend lines at the last bar
      ctx.font = "11px " + FONT;
      const lx = xScale.getPixelForValue(lastWeek) - 1;
      p.trends.forEach((t) => {
        if (!t.label) return;
        ctx.fillStyle = t.color;
        ctx.fillText(t.label, lx, yScale.getPixelForValue(parseFloat(t.label)) + t.dy);
      });

      if (p.level) {
        ctx.fillStyle = "#b4b4b4";
        ctx.fillText(String(p.level), 16, yScale.getPixelForValue(p.level) - 7);
      }
      if (p.note) {
        ctx.font = "bold 12px " + FONT;
        ctx.fillStyle = "#000080";
        ctx.fillText(p.note.text, p.note.x, ca.top + p.note.dy);
      }
      ctx.restore();
    },
  };

  new Chart(canvas, {
    type: "bar",
    data: { datasets },
    options: {
      responsive: false,
      animation: false,
      devicePixelRatio: 1,
      layout: { padding: { left: 1, right: 0, top: 2, bottom: p.showDates ? 0 : 2 } },
      plugins: { legend: { display: false }, tooltip: { enabled: false } },
      scales: {
        x: {
          type: "linear",
          min: -12.35,
          max: 198,
          offset: false,
          afterBuildTicks: (scale) => {
            scale.ticks = xTickWeeks.map((v) => ({ value: v }));
          },
          afterFit: (scale) => {
            scale.height = xAxisHeight;
          },
          ticks: {
            display: !!p.showDates,
            autoSkip: false,
            maxRotation: 0,
            align: "start",
            labelOffset: 6,
            padding: 1,
            color: "#000",
            font: { size: 11, family: FONT },
            callback: (v, i) => xTickLabels[i],
          },
          grid: {
            color: "#c8c8c8",
            drawTicks: !!p.showDates,
            tickLength: 5,
            tickColor: "#000",
          },
          border: { display: false, dash: [3, 3] },
        },
        y: {
          type: "logarithmic",
          position: "right",
          min: p.yMin,
          max: p.yMax,
          afterBuildTicks: (scale) => {
            scale.ticks = p.yTicks.map((v) => ({ value: v }));
          },
          afterFit: (scale) => {
            scale.width = 66;
          },
          ticks: {
            color: "#000",
            padding: 1,
            font: { size: 11, family: FONT },
            callback: (v) => String(v),
          },
          grid: { color: "#c8c8c8", tickLength: 4, tickColor: "#000" },
          border: { display: false, dash: [3, 3] },
        },
        yv: {
          type: "linear",
          display: false,
          min: 0,
          max: p.volumeScale,
        },
      },
    },
    plugins: [panelText],
  });
};

const GREEN = "#00b000";

makePanel({
  id: "gbp", top: 2, bottom: 487,
  open: gbpOpen, high: gbpHigh, low: gbpLow, close: gbpClose,
  volume: gbpVolume, volumeStart: gbpVolumeStart, volumeScale: 485,
  volUp: "#8c8c8c", volDown: "#c4c4c4",
  candleEdge: "#000080", fastColor: "#808000", titleColor: "#000080",
  yMin: 184.8, yMax: 259.5, yTicks: gbpTicks,
  level: gbpLevel,
  markers: gbpMarkers,
  trends: [
    { points: gbpRedLine, color: "#ff0000", label: "242.9694", dy: 6 },
    { points: gbpGreenLine, color: "#008000", label: "226.029", dy: -4 },
    { points: gbpSteepLine, color: "#008000", label: "200.3995", dy: -4 },
  ],
  note: { text: "erstellt von oegeat", x: 383, dy: 320 },
  header1: [
    ["GBP/JPY Spot [GBPJPY FXD  W\u00f6chentlich]", "#000080"],
    [" 27.04.2008 - ", "#000"],
    ["O:207.3500", GREEN],
    [" H:208.0700 L:204.2200 ", "#000"],
    ["C:204.8300", "#ff0000"],
  ],
  header2: [
    ["\u223fBB [Close, 20, 2, 250, Ja] ", "#000"],
    ["Upper Band 226.6849 Lower Band 192.0921 ", "#808000"],
    ["Upperband 226.6849 Lowerband 192.0921 ", "#b8b8b8"],
    ["{GBPJPY FXD}", "#000"],
  ],
});

makePanel({
  id: "chf", top: 493, bottom: 979,
  open: chfOpen, high: chfHigh, low: chfLow, close: chfClose,
  volume: chfVolume, volumeStart: chfVolumeStart, volumeScale: 486,
  volUp: "#b4b4b4", volDown: "#e8b8b8",
  candleEdge: "#000", fastColor: "#0000ff", titleColor: "#000",
  yMin: 79.17, yMax: 102.92, yTicks: chfTicks,
  trends: [{ points: chfRedLine, color: "#ff0000", label: "96.4141", dy: 6 }],
  header1: [
    ["CHF/JPY Spot [CHFJPY FXD  W\u00f6chentlich]", "#000"],
    [" 27.04.2008 - ", "#000"],
    ["O:101.9700", GREEN],
    [" H:102.5600 L:101.8600 ", "#000"],
    ["C:102.2100", GREEN],
  ],
  header2: [
    ["\u223fBB(2) [Close, 20, 2, 250, Ja] ", "#000"],
    ["Upper Band 101.9972 Lower Band 96.3268 ", "#808000"],
    ["Upperband 101.9972 Lowerband 96.3268 ", "#b8b8b8"],
    ["{CHFJPY FXD}", "#000"],
  ],
});

makePanel({
  id: "eur", top: 984, bottom: 1471,
  open: eurOpen, high: eurHigh, low: eurLow, close: eurClose,
  volume: eurVolume, volumeStart: eurVolumeStart, volumeScale: 487,
  volUp: "#b4b4b4", volDown: "#e8b8b8",
  candleEdge: "#000", fastColor: "#808000", titleColor: "#000",
  yMin: 126.97, yMax: 175.67, yTicks: eurTicks,
  trends: [
    { points: eurRedLine, color: "#ff0000", label: "159.7713", dy: 7 },
    { points: eurGreenLine, color: "#008000", label: "165.5284", dy: -6 },
  ],
  header1: [
    ["EUR/JPY Spot [EURJPY FXD  W\u00f6chentlich]", "#000"],
    [" 27.04.2008 - ", "#000"],
    ["O:164.1100", GREEN],
    [" H:164.8720 L:163.8670 ", "#000"],
    ["C:164.2420", GREEN],
  ],
  header2: [
    ["\u223fBB(3) [Close, 20, 2, 250, Ja] ", "#000"],
    ["Upper Band 165.9406 Lower Band 152.5518 ", "#808000"],
    ["Upperband 165.9406 Lowerband 152.5518 ", "#b8b8b8"],
    ["{EURJPY FXD}", "#000"],
  ],
});

makePanel({
  id: "usd", top: 1476, bottom: 1961, showDates: true,
  open: usdOpen, high: usdHigh, low: usdLow, close: usdClose,
  volume: usdVolume, volumeStart: usdVolumeStart, volumeScale: 485,
  volUp: "#b4b4b4", volDown: "#e8b8b8",
  candleEdge: "#000", fastColor: "#808000", titleColor: "#000",
  yMin: 93.37, yMax: 126.12, yTicks: usdTicks,
  trends: [
    { points: usdRedLine, color: "#ff0000", label: "120.6482", dy: 3 },
    { points: usdGreenLine, color: "#008000", label: "107.707", dy: -3 },
  ],
  note: { text: "oegeat\u00b4s megageilen chart\u00b4s", x: 316, dy: 315 },
  header1: [
    ["USD/JPY Spot [USDJPY FXD  W\u00f6chentlich]", "#000"],
    [" 27.04.2008 - ", "#000"],
    ["O:103.8100", GREEN],
    [" H:104.0850 L:102.9630 ", "#000"],
    ["C:103.4480", "#ff0000"],
  ],
  header2: [
    ["\u223fBB(4) [Close, 20, 2, 250, Ja] ", "#000"],
    ["Upper Band 114.4671 Lower Band 96.8216 ", "#808000"],
    ["Upperband 114.4671 Lowerband 96.8216 ", "#b8b8b8"],
    ["{USDJPY FXD}", "#000"],
  ],
});
</script>
</body>
</html>
